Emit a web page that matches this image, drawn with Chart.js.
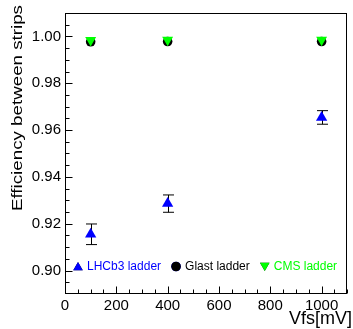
<!DOCTYPE html>
<html>
<head>
<meta charset="utf-8">
<script src="https://cdn.jsdelivr.net/npm/chart.js@4.4.1/dist/chart.umd.min.js"></script>
<style>
  html, body { margin: 0; padding: 0; background: #fff; }
  #wrap { width: 353px; height: 329px; }
</style>
</head>
<body>
<div id="wrap"><canvas id="myChart" width="353" height="329"></canvas></div>
<script>
  // valeurs
  const vfs = [100, 400, 1000];
  const lhcb3 = [0.9155, 0.9286, 0.9654];
  const lhcb3Err = [0.0044, 0.0037, 0.0029];
  const glast = [0.9977, 0.9978, 0.9978];
  const glastErr = [0, 0, 0];
  const cms = [0.9984, 0.9985, 0.9985];
  const cmsErr = [0, 0, 0];

  const xTicks = [0, 200, 400, 600, 800, 1000];
  const yTicks = [0.90, 0.92, 0.94, 0.96, 0.98, 1.00];

  const FONT = '"Liberation Sans", Arial, Helvetica, sans-serif';

  function toPoints(ys) {
    return vfs.map((x, i) => ({ x: x, y: ys[i] }));
  }

  const series = [
    { label: 'LHCb3 ladder', values: lhcb3, errors: lhcb3Err, color: '#0000ff', style: 'triangle', rot: 0, r: 6.5, order: 3 },
    { label: 'Glast ladder', values: glast, errors: glastErr, color: '#000000', style: 'circle', rot: 0, r: 4.8, order: 2 },
    { label: 'CMS ladder', values: cms, errors: cmsErr, color: '#00ff00', style: 'triangle', rot: 180, r: 6.3, order: 1 }
  ];

  // barres d'erreur, dessinées sous les marqueurs
  const errorBars = {
    id: 'errorBars',
    beforeDatasetsDraw(chart) {
      const ctx = chart.ctx;
      const xs = chart.scales.x, ys = chart.scales.y;
      ctx.save();
      ctx.strokeStyle = '#000';
      ctx.lineWidth = 1;
      series.forEach(s => {
        vfs.forEach((v, i) => {
          if (!s.errors[i]) return;
          const px = Math.round(xs.getPixelForValue(v)) + 0.5;
          const top = ys.getPixelForValue(s.values[i] + s.errors[i]);
          const bot = ys.getPixelForValue(s.values[i] - s.errors[i]);
          ctx.beginPath();
          ctx.moveTo(px, top); ctx.lineTo(px, bot);
          ctx.moveTo(px - 5.5, top); ctx.lineTo(px + 5.5, top);
          ctx.moveTo(px - 5.5, bot); ctx.lineTo(px + 5.5, bot);
          ctx.stroke();
        });
      });
      ctx.restore();
    }
  };

  // cadre, graduations vers l'intérieur, titres et légende
  const decor = {
    id: 'decor',
    afterDraw(chart) {
      const ctx = chart.ctx;
      const a = chart.chartArea;
      const xs = chart.scales.x, ys = chart.scales.y;
      const L = Math.round(a.left) + 0.5, R = Math.round(a.right) - 0.5;
      const T = Math.round(a.top) + 0.5, B = Math.round(a.bottom) - 0.5;
      ctx.save();
      ctx.strokeStyle = '#000';
      ctx.lineWidth = 1;
      ctx.strokeRect(L, T, R - L, B - T);

      ctx.beginPath();
      for (let v = 0; v <= 1100; v += 50) {
        const px = Math.round(xs.getPixelForValue(v)) + 0.5;
        const len = v % 200 === 0 ? 7 : 4;
        ctx.moveTo(px, B); ctx.lineTo(px, B - len);
      }
      for (let k = 178; k <= 202; k++) {
        const v = k * 0.005;
        const py = Math.round(ys.getPixelForValue(v)) + 0.5;
        if (py < T || py > B) continue;
        const len = k % 4 === 0 ? 7 : 4;
        ctx.moveTo(L, py); ctx.lineTo(L + len, py);
      }
      ctx.stroke();

      ctx.fillStyle = '#000';
      ctx.font = '18px ' + FONT;
      ctx.textAlign = 'right';
      ctx.textBaseline = 'alphabetic';
      ctx.fillText('Vfs[mV]', 352, 324);

      ctx.save();
      ctx.translate(22, 5);
      ctx.rotate(-Math.PI / 2);
      ctx.scale(1.25, 1);
      ctx.font = '15px ' + FONT;
      ctx.textAlign = 'right';
      ctx.fillText('Efficiency between strips', 0, 0);
      ctx.restore();

      // légende
      ctx.font = '12px ' + FONT;
      ctx.textAlign = 'left';
      ctx.textBaseline = 'middle';
      let x = 78;
      const y = 266.5;
      series.forEach(s => {
        Chart.helpers.drawPoint(ctx, {
          pointStyle: s.style, rotation: s.rot, radius: s.style === 'circle' ? 4.8 : 5.5, borderWidth: 0
        }, x, y + (s.style === 'triangle' ? (s.rot ? -1 : 1) : 0));
        ctx.fillStyle = s.color;
        ctx.fill();
        ctx.fillStyle = s.color;
        ctx.fillText(s.label, x + 9, y);
        x += 9 + ctx.measureText(s.label).width + 15;
      });
      ctx.restore();
    }
  };

  const ctx = document.getElementById('myChart').getContext('2d');
  new Chart(ctx, {
    type: 'scatter',
    data: {
      datasets: series.map(s => ({
        label: s.label,
        data: toPoints(s.values),
        pointStyle: s.style,
        pointRotation: s.rot,
        pointRadius: s.r,
        pointHoverRadius: s.r,
        pointBackgroundColor: s.color,
        pointBorderColor: s.color,
        pointBorderWidth: 0,
        order: s.order
      }))
    },
    options: {
      responsive: false,
      animation: false,
      events: [],
      layout: { padding: { top: 6, right: 1, left: 0, bottom: 0 } },
      plugins: { legend: { display: false }, tooltip: { enabled: false } },
      scales: {
        x: {
          type: 'linear',
          min: 0,
          max: 1097,
          afterFit(scale) { scale.height = 35; },
          afterBuildTicks(scale) { scale.ticks = xTicks.map(v => ({ value: v })); },
          grid: { display: false, drawTicks: false },
          border: { display: false },
          ticks: {
            padding: 3,
            color: '#000',
            font: { family: FONT, size: 15 },
            maxRotation: 0,
            callback: v => String(v)
          }
        },
        y: {
          type: 'linear',
          min: 0.89,
          max: 1.01,
          afterFit(scale) { scale.width = 65; },
          afterBuildTicks(scale) { scale.ticks = yTicks.map(v => ({ value: v })); },
          grid: { display: false, drawTicks: false },
          border: { display: false },
          ticks: {
            padding: 4,
            color: '#000',
            font: { family: FONT, size: 15 },
            callback: v => v.toFixed(2)
          }
        }
      }
    },
    plugins: [errorBars, decor]
  });
</script>
</body>
</html>
